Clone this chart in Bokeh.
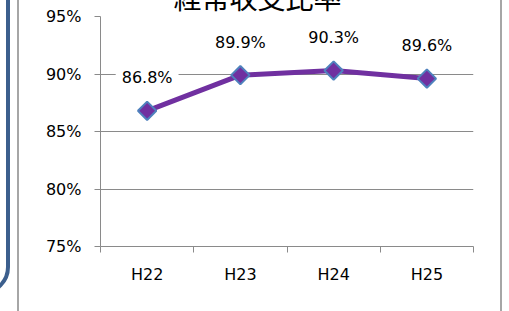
from bokeh.plotting import figure
from bokeh.models import (Range1d, FixedTicker, PrintfTickFormatter, InlineStyleSheet,
                          ColumnDataSource)
from bokeh.core.properties import value
from bokeh.embed import file_html
from bokeh.resources import INLINE
import numpy as np

# ---- data ----
categories = ["H22", "H23", "H24", "H25"]
ratio = [86.8, 89.9, 90.3, 89.6]
y_ticks = [75, 80, 85, 90, 95]
title_text = "経常収支比率"

xpos = [i + 0.5 for i in range(len(categories))]
labels = [f"{v:.1f}%" for v in ratio]

W, H = 509, 311
OFF = 50                                   # canvas extends above the visible page
FL, FR, FT, FB = 100, 473, 16 + OFF, 246 + OFF  # frame pixel edges (canvas coords)

css = """
:host { overflow: hidden; }
:host::before {
  content: ""; position: absolute; pointer-events: none; z-index: 5;
  left: -100px; top: -10px; width: 101.5px; height: 347px;
  border: 4px solid #3C5F8D; border-radius: 28px;
}
:host::after {
  content: ""; position: absolute; pointer-events: none; z-index: 5;
  left: 17px; top: 0px; width: 481px; height: 440px;
  border-left: 2px solid #a6a6a6; border-right: 2px solid #a6a6a6;
}
"""

p = figure(width=W, height=H + OFF, output_backend="svg", toolbar_location=None,
           x_range=Range1d(0, len(categories)), y_range=Range1d(y_ticks[0], y_ticks[-1]),
           min_border_left=FL, min_border_right=W - FR, min_border_top=FT,
           min_border_bottom=H + OFF - FB, margin=(-OFF, 0, 0, 0),
           stylesheets=[InlineStyleSheet(css=css)])
p.outline_line_color = None
p.background_fill_color = "white"
p.border_fill_color = "white"

# title
p.title.text = title_text
p.title.text_font = "Noto Sans CJK JP"
p.title.text_font_size = "28px"
p.title.text_font_style = "normal"
p.title.text_color = "black"
p.title.align = "left"
p.title.offset = 73
p.title.standoff = 0

grid_col = "#8a8a8a"
font = "DejaVu Sans"

# y axis
p.yaxis.ticker = FixedTicker(ticks=y_ticks)
p.yaxis.formatter = PrintfTickFormatter(format="%d%%")
p.yaxis.major_tick_out = 6
p.yaxis.major_tick_in = 0
p.yaxis.minor_tick_line_color = None
p.yaxis.axis_line_color = grid_col
p.yaxis.major_tick_line_color = grid_col
p.yaxis.major_label_standoff = 13
p.yaxis.major_label_text_font = font
p.yaxis.major_label_text_font_size = "16px"
p.yaxis.major_label_text_color = "black"

# x axis
p.xaxis.ticker = FixedTicker(ticks=xpos, minor_ticks=list(range(len(categories) + 1)))
p.xaxis.major_label_overrides = {x: c for x, c in zip(xpos, categories)}
p.xaxis.major_tick_out = 0
p.xaxis.major_tick_in = 0
p.xaxis.minor_tick_out = 6
p.xaxis.minor_tick_in = 0
p.xaxis.minor_tick_line_color = grid_col
p.xaxis.axis_line_color = grid_col
p.xaxis.major_label_standoff = 12
p.xaxis.major_label_text_font = font
p.xaxis.major_label_text_font_size = "16px"
p.xaxis.major_label_text_color = "black"

p.xgrid.visible = False
p.ygrid.ticker = FixedTicker(ticks=y_ticks)
p.ygrid.grid_line_color = grid_col

src = ColumnDataSource(dict(x=xpos, y=ratio, lab=labels))
p.line("x", "y", source=src, line_color="#7030A0", line_width=5)
p.scatter("x", "y", source=src, marker="square", size=13, angle=np.pi / 4,
          fill_color="#7030A0", line_color="#4F81BD", line_width=2)
p.text("x", "y", text="lab", source=src, y_offset=-33, text_align="center",
       text_baseline="middle", text_font=value(font), text_font_size="16px",
       text_color="black", background_fill_color="white", padding=6)

open("out.html", "w").write(file_html(p, INLINE))
